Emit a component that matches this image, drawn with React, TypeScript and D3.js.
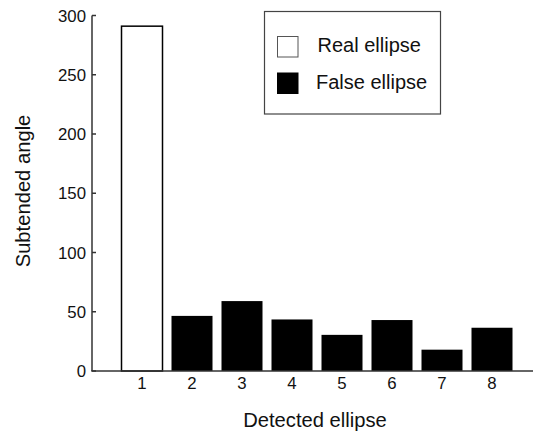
import * as d3 from "d3";

const categories = [1, 2, 3, 4, 5, 6, 7, 8];
const angles = [291, 46.5, 59, 43.5, 30.5, 43, 18, 36.5];
const kinds = ["real", "false", "false", "false", "false", "false", "false", "false"];
const yTicks = [0, 50, 100, 150, 200, 250, 300];
const legendItems = [
  { label: "Real ellipse", kind: "real" },
  { label: "False ellipse", kind: "false" },
];

const width = 533;
const height = 434;
const font = "'Liberation Sans', Arial, Helvetica, sans-serif";

export default function App() {
  const x = d3.scaleLinear().domain([0, 9]).range([92, 542]);
  const y = d3.scaleLinear().domain([0, 300]).range([371, 15.5]);
  const barW = x(0.82) - x(0);
  const axisColor = "#333";

  return (
    <svg
      width={width}
      height={height}
      style={{ position: "absolute", left: 0, top: 0, background: "#fff" }}
      fontFamily={font}
    >
      {/* bars */}
      {categories.map((c, i) => {
        const isReal = kinds[i] === "real";
        return (
          <rect
            key={c}
            x={x(c) - barW / 2}
            y={y(angles[i])}
            width={barW}
            height={y(0) - y(angles[i])}
            fill={isReal ? "#fff" : "#000"}
            stroke="#000"
            strokeWidth={isReal ? 1.5 : 0}
          />
        );
      })}

      {/* axes */}
      <line x1={x(0)} x2={x(0)} y1={y(300)} y2={y(0)} stroke={axisColor} strokeWidth={1.5} />
      <line x1={x(0) - 0.75} x2={width} y1={y(0)} y2={y(0)} stroke={axisColor} strokeWidth={1.5} />
      {yTicks.map((t) => (
        <g key={t} transform={`translate(0, ${y(t)})`}>
          <line x1={x(0)} x2={x(0) + 4} stroke={axisColor} strokeWidth={1.5} />
          <text x={86} dy="0.36em" textAnchor="end" fontSize={16.8} fill="#111">
            {t}
          </text>
        </g>
      ))}
      {categories.map((c) => (
        <text key={c} x={x(c)} y={389} textAnchor="middle" fontSize={16.8} fill="#111">
          {c}
        </text>
      ))}

      {/* titles */}
      <text x={315} y={427} textAnchor="middle" fontSize={20.2} fill="#111">
        Detected ellipse
      </text>
      <text
        transform={`translate(30, 191) rotate(-90)`}
        textAnchor="middle"
        fontSize={20.2}
        fill="#111"
      >
        Subtended angle
      </text>

      {/* legend */}
      <rect x={264.5} y={11.5} width={176} height={102.5} fill="#fff" stroke="#444" strokeWidth={1.2} />
      {legendItems.map((item, i) => (
        <g key={item.label} transform={`translate(277, ${36 + i * 36.5})`}>
          <rect
            x={0.5}
            y={0.5}
            width={20.5}
            height={20.5}
            fill={item.kind === "real" ? "#fff" : "#000"}
            stroke={item.kind === "real" ? "#555" : "#000"}
            strokeWidth={1}
          />
          <text x={item.kind === "real" ? 40.5 : 39} y={16} fontSize={20} fill="#111">
            {item.label}
          </text>
        </g>
      ))}
    </svg>
  );
}
